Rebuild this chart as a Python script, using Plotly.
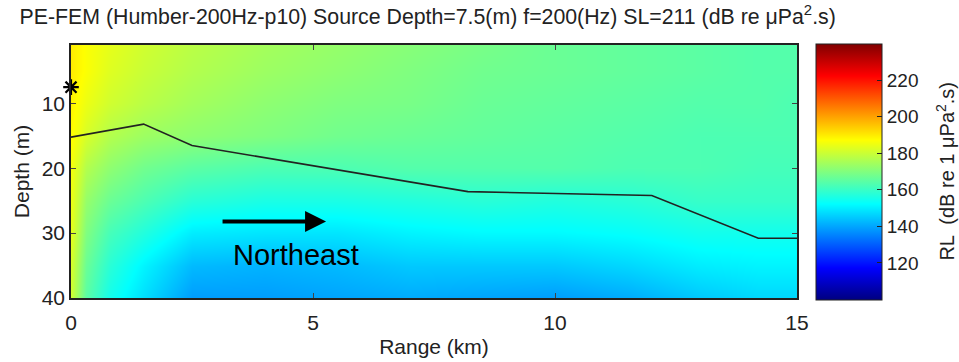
import plotly.graph_objects as go

# ---- data ----
range_km = [0, 0.3, 0.8, 1.5, 2.5, 4, 5.5, 7, 8.5, 10, 11.5, 13, 14.2, 15]
depth_m = [1, 5, 10, 15, 20, 25, 30, 35, 40]
rl_db = [
    [190, 187, 184, 181, 178, 175, 173, 171, 169, 167, 166, 165, 164, 164],
    [190, 187, 183, 180, 177, 174, 172, 170, 168, 167, 166, 165, 164, 164],
    [189, 185, 181, 178, 175, 172, 170, 169, 167, 166, 165, 164, 164, 163],
    [188, 182, 177, 174, 172, 170, 168, 167, 166, 165, 164, 163, 163, 163],
    [186, 177, 172, 168, 165, 163, 163, 164, 164, 164, 163, 163, 162, 162],
    [185, 173, 167, 163, 158, 156, 156, 157, 158, 157, 158, 160, 160, 160],
    [184, 170, 162, 157, 150, 149, 149, 151, 152, 152, 153, 155, 155, 155],
    [182, 167, 158, 151, 143, 142, 143, 145, 145, 145, 147, 150, 151, 151],
    [181, 165, 155, 148, 139, 139, 140, 141, 140, 139, 141, 145, 147, 147],
]
bathy_range = [0, 1.5, 2.5, 8.2, 12.0, 14.2, 15]
bathy_depth = [15.2, 13.2, 16.5, 23.6, 24.2, 30.8, 30.8]
source_range = [0]
source_depth = [7.5]
cbar_ticks = [120, 140, 160, 180, 200, 220]
x_ticks = [0, 5, 10, 15]
y_ticks = [10, 20, 30, 40]

jet = [
    [0.0, "rgb(0,0,128)"],
    [0.125, "rgb(0,0,255)"],
    [0.375, "rgb(0,255,255)"],
    [0.625, "rgb(255,255,0)"],
    [0.875, "rgb(255,0,0)"],
    [1.0, "rgb(128,0,0)"],
]

FONT = "Liberation Sans, Arial, sans-serif"

fig = go.Figure()
fig.add_trace(go.Heatmap(
    x=range_km, y=depth_m, z=rl_db,
    zsmooth="best", colorscale=jet, zmin=100, zmax=240,
    colorbar=dict(
        x=1.026, xanchor="left", xref="paper", xpad=0, ypad=0,
        y=0.5, yanchor="middle",
        thickness=66, thicknessmode="pixels",
        len=256, lenmode="pixels",
        outlinewidth=1, outlinecolor="#222",
        tickvals=cbar_ticks, ticks="inside", ticklen=5, tickcolor="#222",
        tickfont=dict(family=FONT, size=19, color="#222"),
    ),
    hoverinfo="skip",
))
fig.add_trace(go.Scatter(
    x=bathy_range, y=bathy_depth, mode="lines",
    line=dict(color="#222", width=1.6), showlegend=False, hoverinfo="skip",
))
fig.add_trace(go.Scatter(
    x=source_range, y=source_depth, mode="markers",
    marker=dict(symbol="asterisk-open", size=13, color="black",
                line=dict(color="black", width=2.2)),
    showlegend=False, cliponaxis=False, hoverinfo="skip",
))

fig.add_annotation(
    x=5.27, y=28.2, ax=3.1, ay=28.2, xref="x", yref="y", axref="x", ayref="y",
    showarrow=True, arrowhead=2, arrowsize=1.05, arrowwidth=4, arrowcolor="black",
    text="",
)
fig.add_annotation(
    x=4.64, y=33.3, xref="x", yref="y", text="Northeast", showarrow=False,
    font=dict(family=FONT, size=29, color="black"),
)
fig.add_annotation(
    x=1.204, y=0.5, xref="paper", yref="paper", textangle=-90,
    text="RL  (dB re 1 μPa<sup>2</sup>.s)", showarrow=False,
    xanchor="center", yanchor="middle",
    font=dict(family=FONT, size=20, color="#222"),
)

fig.update_layout(
    width=959, height=362,
    margin=dict(l=71, r=162, t=45, b=64, autoexpand=False),
    paper_bgcolor="white", plot_bgcolor="white",
    title=dict(
        text="PE-FEM (Humber-200Hz-p10) Source Depth=7.5(m) f=200(Hz) SL=211 (dB re μPa<sup>2</sup>.s)",
        x=0.446, xanchor="center", y=0.955, yanchor="middle",
        font=dict(family=FONT, size=21.3, color="#222"),
    ),
    showlegend=False,
)
fig.update_xaxes(
    range=[0, 15], tickvals=x_ticks, ticks="inside", ticklen=5,
    showline=True, linecolor="#222", linewidth=1.5, mirror="ticks",
    showgrid=False, zeroline=False, ticklabelstandoff=5,
    tickfont=dict(family=FONT, size=21, color="#222"),
    title=dict(text="Range (km)", font=dict(family=FONT, size=21, color="#222"), standoff=6),
)
fig.update_yaxes(
    range=[40, 1], tickvals=y_ticks, ticks="inside", ticklen=5,
    showline=True, linecolor="#222", linewidth=1.5, mirror="ticks",
    showgrid=False, zeroline=False,
    tickfont=dict(family=FONT, size=21, color="#222"),
    title=dict(text="Depth (m)", font=dict(family=FONT, size=21, color="#222"), standoff=6),
)

fig.write_html("out.html")
